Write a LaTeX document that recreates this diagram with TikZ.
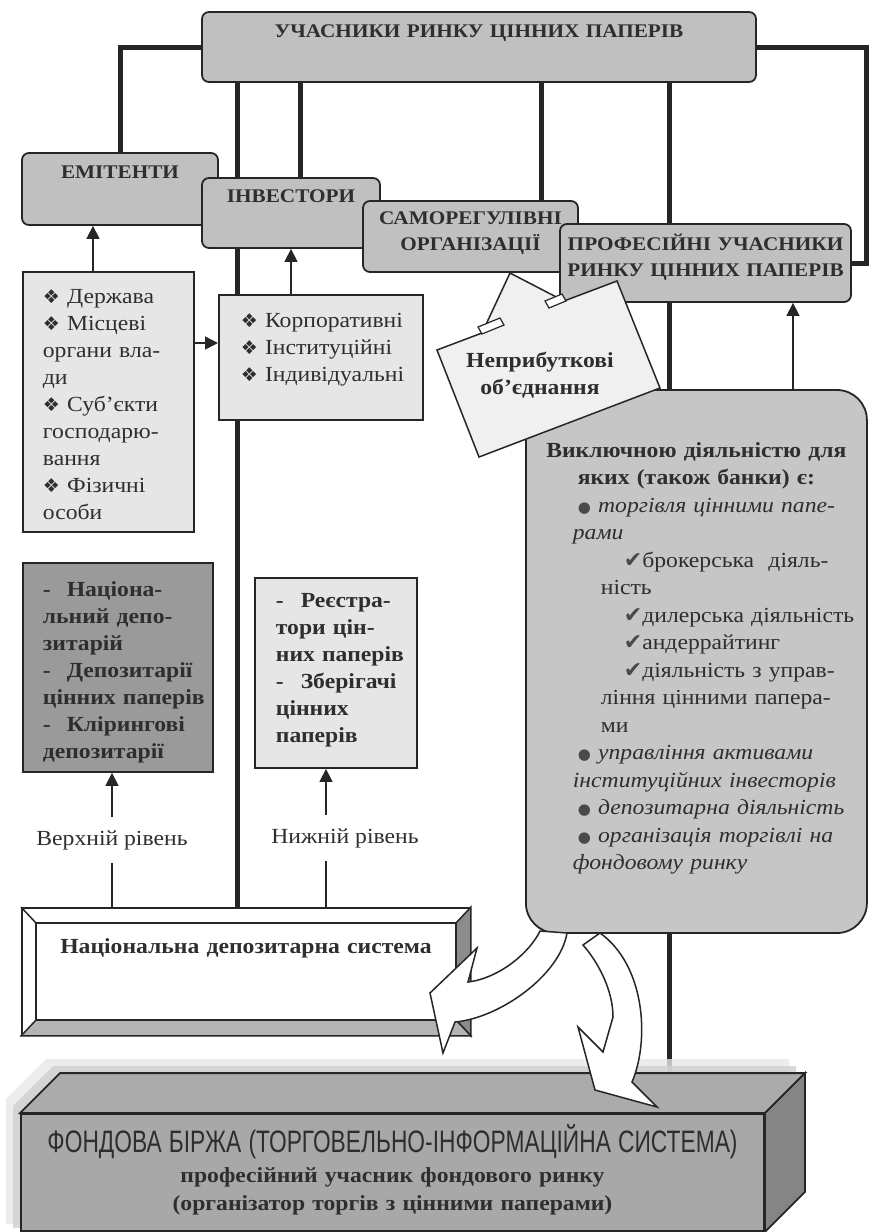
\documentclass[tikz,border=0pt]{standalone}
\usepackage{fontspec}
\setmainfont{Liberation Serif}[FakeStretch=1.1]
\newfontfamily\dejavu{DejaVu Sans}
\newfontfamily\narrowsans{Liberation Sans}[FakeStretch=0.735]
\usetikzlibrary{arrows.meta,calc,backgrounds}

\definecolor{linec}{HTML}{262626}
\definecolor{textc}{HTML}{2E2E2E}
\definecolor{headfill}{HTML}{C0C0C0}
\definecolor{lightfill}{HTML}{E6E6E6}
\definecolor{darkfill}{HTML}{9A9A9A}
\definecolor{bigfill}{HTML}{C6C6C6}
\definecolor{paperfill}{HTML}{F0F0F0}
\definecolor{frontfill}{HTML}{A8A8A8}
\definecolor{topfill}{HTML}{ABABAB}
\definecolor{sidefill}{HTML}{858585}
\definecolor{bevlow}{HTML}{B4B4B4}
\definecolor{bevside}{HTML}{8C8C8C}
\definecolor{shadea}{HTML}{E8E8E8}
\definecolor{shadeb}{HTML}{D0D0D0}
\definecolor{bulc}{HTML}{4A4A4A}

\newcommand\bodysize{\fontsize{21.5}{27}\selectfont}
\newcommand\titlesize{\fontsize{19.3}{26}\selectfont}
\newcommand\dmnd{{\dejavu\fontsize{19}{19}\selectfont ❖}}
\newcommand\gbul{{\dejavu\fontsize{15}{15}\selectfont\color{bulc}●}}
\newcommand\chk{{\dejavu\fontsize{22}{22}\selectfont\color{bulc}✔}}

\begin{document}
\begin{tikzpicture}[
    x=1pt, y=-1pt,
    head/.style={draw=linec, line width=1.8, fill=headfill, rounded corners=7,
                 font=\titlesize\bfseries, text=textc, align=center,
                 inner sep=0, anchor=base},
    listbox/.style={draw=linec, line width=1.8, fill=lightfill,
                    font=\bodysize, text=textc, align=left,
                    inner ysep=0, anchor=base west},
    bigbox/.style={draw=linec, line width=1.8, fill=bigfill, rounded corners=30,
                   font=\fontsize{21.5}{27.5}\selectfont, text=textc, align=left,
                   inner ysep=0, anchor=base west},
    bus/.style={line width=5, draw=linec},
    arr/.style={-{Triangle[length=13,width=13]}, line width=1.5, draw=linec},
    lvl/.style={fill=white, font=\bodysize, text=textc, inner xsep=2, inner ysep=13},
    bigarrow/.style={draw=linec, line width=1.5, fill=white},
    paper/.style={draw=linec, line width=1.5, fill=paperfill}
]
  \useasboundingbox (0,0) rectangle (869,1232);

  \node[head, text width=554, text height=25, text depth=45] (uchasn) at (479,37) {УЧАСНИКИ~РИНКУ~ЦІННИХ~ПАПЕРІВ};
  \node[head, text width=196, text height=25, text depth=47] (emit) at (120,178) {ЕМІТЕНТИ};
  \node[head, text width=178, text height=24, text depth=46] (invest) at (291,202) {ІНВЕСТОРИ};
  \node[head, text width=215, text height=23, text depth=48] (samoreg) at (470.5,224) {САМОРЕГУЛІВНІ\\ОРГАНІЗАЦІЇ};
  \node[head, text width=291, text height=26, text depth=52] (prof) at (705.5,250) {ПРОФЕСІЙНІ~УЧАСНИКИ\\РИНКУ~ЦІННИХ~ПАПЕРІВ};

  \node[listbox, text width=131, inner xsep=20, text height=31, text depth=229] (derzh) at (22,303)
    {\dmnd~Держава\\ \dmnd~Місцеві\\ органи~вла-\\ ди\\ \dmnd~Суб’єкти\\ господарю-\\ вання\\ \dmnd~Фізичні\\ особи};
  \node[listbox, text width=160, inner xsep=22, text height=32, text depth=93] (korp) at (218,327)
    {\dmnd~Корпоративні\\ \dmnd~Інституційні\\ \dmnd~Індивідуальні};
  \node[listbox, fill=darkfill, font=\bodysize\bfseries, text width=150, inner xsep=20,
        text height=33, text depth=176] (natdep) at (22,596)
    {\mbox{-}\kern16pt Націона-\\ льний~депо-\\ зитарій\\ \mbox{-}\kern16pt Депозитарії\\ цінних~паперів\\ \mbox{-}\kern16pt Клірингові\\ депозитарії};
  \node[listbox, font=\bodysize\bfseries, text width=120, inner xsep=21,
        text height=29, text depth=161] (reestr) at (254,607)
    {\mbox{-}\kern17pt Реєстра-\\ тори~цін-\\ них~паперів\\ \mbox{-}\kern17pt Зберігачі\\ цінних\\ паперів};

  \node[bigbox, text width=313, inner xsep=14, text height=67, text depth=476] (vykl) at (525,457) {%
    {\centering\bfseries Виключною~діяльністю~для\\ яких~(також~банки)~є:\par}
    \hspace*{38pt}\gbul~\textit{торгівля~цінними~папе-}\\
    \hspace*{33pt}\textit{рами}\\
    \hspace*{84pt}\makebox[217pt][s]{\chk брокерська\ \ діяль-}\\
    \hspace*{61pt}ність\\
    \hspace*{84pt}\chk дилерська~діяльність\\
    \hspace*{84pt}\chk андеррайтинг\\
    \hspace*{84pt}\chk діяльність~з~управ-\\
    \hspace*{61pt}ління~цінними~папера-\\
    \hspace*{61pt}ми\\
    \hspace*{38pt}\gbul~\textit{управління~активами}\\
    \hspace*{33pt}\textit{інституційних~інвесторів}\\
    \hspace*{38pt}\gbul~\textit{депозитарна~діяльність}\\
    \hspace*{38pt}\gbul~\textit{організація~торгівлі~на}\\
    \hspace*{33pt}\textit{фондовому~ринку}};

  \draw[paper] (437,350) -- (482,333) -- (510,273) -- (564,301) -- (617,281) -- (660,388) -- (479,457) -- cycle;
  \draw[line width=1.2, draw=linec, fill=white] (478,327) -- (500,318) -- (504,325) -- (482,334) -- cycle;
  \draw[line width=1.2, draw=linec, fill=white] (545,301) -- (562,294) -- (566,301) -- (549,308) -- cycle;
  \node[font=\bodysize\bfseries, text=textc, text width=180, align=center, anchor=base, inner sep=0] (nepr) at (540,367)
    {Неприбуткові\\ об’єднання};

  \node[draw=linec, line width=1.8, fill=white, text width=448, inner sep=0, align=center, anchor=base,
        text height=45, text depth=82, font=\bodysize\bfseries, text=textc] (nds) at (246,953)
    {Національна~депозитарна~система};
  \draw[line width=1.5, draw=linec, fill=bevside] (nds.north east) -- (nds.south east) -- ++(-15,-16) -- ($(nds.north east)+(-15,16)$) -- cycle;
  \draw[line width=1.5, draw=linec, fill=bevlow] (nds.south west) -- (nds.south east) -- ++(-15,-16) -- ($(nds.south west)+(15,-16)$) -- cycle;
  \draw[line width=1.5, draw=linec] ($(nds.north west)+(15,16)$) rectangle ($(nds.south east)+(-15,-16)$);
  \draw[line width=1.5, draw=linec] (nds.north west) -- ++(15,16);

  \node[draw=linec, line width=1.8, fill=frontfill, text width=743, inner sep=0, align=center, anchor=base,
        text height=38, text depth=79, font=\fontsize{21.5}{28}\selectfont\bfseries, text=textc] (birzha) at (392.5,1152)
    {{\narrowsans\mdseries\fontsize{31}{31}\selectfont ФОНДОВА~БІРЖА~(ТОРГОВЕЛЬНО-ІНФОРМАЦІЙНА~СИСТЕМА)}\\[2pt]
     професійний~учасник~фондового~ринку\\ (організатор~торгів~з~цінними~паперами)};
  \draw[line width=1.8, draw=linec, fill=topfill] (birzha.north west) -- ++(40,-40) -- ($(birzha.north east)+(40,-40)$) -- (birzha.north east) -- cycle;
  \draw[line width=1.8, draw=linec, fill=sidefill] (birzha.north east) -- ++(40,-40) -- ($(birzha.south east)+(40,-40)$) -- (birzha.south east) -- cycle;

  \draw[bigarrow] (540,931) .. controls (530,952) and (500,978) .. (468,982) -- (477,948) -- (430,993) -- (443,1053)
    -- (455,1022) .. controls (500,1018) and (560,975) .. (567,933) -- cycle;
  \draw[bigarrow] (583,945) .. controls (598,962) and (613,990) .. (613,1017) -- (603,1052) -- (578,1027) -- (595,1090)
    -- (657,1107) -- (632,1082) .. controls (650,1040) and (645,965) .. (600,933) -- cycle;

  \draw[arr] (93,0 |- derzh.north) -- (93,0 |- emit.south);
  \draw[arr] (derzh.east |- 0,343) -- (korp.west |- 0,343);
  \draw[arr] (invest.south |- korp.north) -- (invest.south);
  \draw[arr] (793,0 |- vykl.north) -- (793,0 |- prof.south);
  \draw[arr] (112,0 |- nds.north) -- node[lvl] {Верхній рівень} (112,0 |- natdep.south);
  \draw[arr] (326,0 |- nds.north) -- node[lvl, xshift=19] {Нижній рівень} (326,0 |- reestr.south);

  \begin{scope}[on background layer]
    \fill[white] (0,0) rectangle (869,1232);
    \draw[bus] (uchasn.west) -| (emit.north);
    \draw[bus] (uchasn.east) -| (866,0 |- prof.east) -- (prof.east);
    \draw[bus] (237,0 |- uchasn.south) -- (237,0 |- nds.north);
    \draw[bus] (300,0 |- uchasn.south) -- (300,0 |- invest.north);
    \draw[bus] (541,0 |- uchasn.south) -- (541,0 |- samoreg.north);
    \draw[bus] (669,0 |- uchasn.south) -- (669,0 |- birzha.north);
    \fill[shadea, fill opacity=0.8] (6,1224) -- (6,1099) -- (46,1059) -- (789,1059) -- (789,1176) -- (749,1216) -- cycle;
    \fill[shadeb, fill opacity=0.8] (13,1228) -- (13,1106) -- (53,1066) -- (796,1066) -- (796,1183) -- (756,1223) -- cycle;
  \end{scope}
\end{tikzpicture}
\end{document}
